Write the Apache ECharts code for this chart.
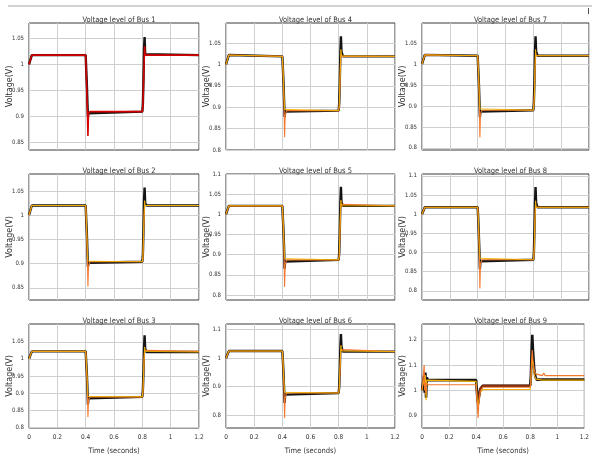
<!DOCTYPE html>
<html>
<head>
<meta charset="utf-8">
<script src="https://cdn.jsdelivr.net/npm/echarts@6/dist/echarts.min.js"></script>
<style>
  html, body { margin: 0; padding: 0; background: #fff; }
  #main { width: 592px; height: 456px; }
</style>
</head>
<body>
<div id="main"></div>
<script>
// time samples (s) shared by bus 1-8
const timeSteps = [0, 0.012, 0.02, 0.03, 0.4, 0.404, 0.408, 0.412, 0.416, 0.42, 0.43, 0.8, 0.804, 0.808, 0.812, 0.816, 0.82, 0.83, 1.2];
// bus 9 has its own sampling (extra oscillations)
const timeSteps9 = [0, 0.01, 0.016, 0.02, 0.025, 0.03, 0.035, 0.045, 0.4, 0.405, 0.41, 0.415, 0.42, 0.43, 0.45, 0.8, 0.805, 0.81, 0.815, 0.82, 0.83, 0.84, 0.85, 0.89, 0.9, 0.91, 1.2];

const bus1Black = [1.0, 1.0, 1.018, 1.018, 1.018, 0.99, 0.965, 0.93, 0.900, 0.906, 0.909, 0.909, 0.925, 0.97, 1.03, 1.053, 1.02, 1.018, 1.018];
const bus1Red = [1.0, 1.0, 1.018, 1.018, 1.018, 0.985, 0.95, 0.915, 0.862, 0.905, 0.909, 0.909, 0.92, 0.96, 1.0, 1.035, 1.018, 1.018, 1.018];

const bus2Black = [1.0, 1.0, 1.02, 1.02, 1.02, 0.99, 0.965, 0.93, 0.893, 0.902, 0.904, 0.904, 0.92, 0.97, 1.03, 1.057, 1.025, 1.02, 1.02];
const bus2Gold = [1.0, 1.0, 1.02, 1.02, 1.02, 1.0, 0.97, 0.93, 0.905, 0.904, 0.904, 0.904, 0.915, 0.96, 1.0, 1.03, 1.02, 1.02, 1.02];
const bus2Orange = [1.0, 1.0, 1.02, 1.02, 1.02, 0.985, 0.95, 0.915, 0.853, 0.895, 0.904, 0.904, 0.91, 0.95, 0.99, 1.02, 1.02, 1.02, 1.02];

const bus3Black = [1.0, 1.0, 1.022, 1.022, 1.022, 0.99, 0.96, 0.92, 0.867, 0.885, 0.889, 0.889, 0.91, 0.96, 1.03, 1.069, 1.03, 1.02, 1.02];
const bus3Gold = [1.0, 1.0, 1.022, 1.022, 1.022, 1.0, 0.97, 0.93, 0.89, 0.889, 0.889, 0.889, 0.905, 0.95, 1.0, 1.035, 1.022, 1.02, 1.02];
const bus3Orange = [1.0, 1.0, 1.022, 1.022, 1.022, 0.985, 0.95, 0.91, 0.83, 0.88, 0.889, 0.889, 0.9, 0.94, 0.99, 1.025, 1.022, 1.022, 1.022];

const bus4Black = [1.0, 1.0, 1.022, 1.019, 1.019, 0.99, 0.96, 0.92, 0.877, 0.89, 0.892, 0.892, 0.91, 0.96, 1.03, 1.066, 1.03, 1.019, 1.019];
const bus4Gold = [1.0, 1.0, 1.022, 1.019, 1.019, 1.0, 0.97, 0.93, 0.895, 0.892, 0.892, 0.892, 0.905, 0.95, 1.0, 1.035, 1.02, 1.019, 1.019];
const bus4Orange = [1.0, 1.0, 1.022, 1.019, 1.019, 0.985, 0.95, 0.91, 0.83, 0.88, 0.892, 0.892, 0.9, 0.94, 0.99, 1.025, 1.019, 1.019, 1.019];

const bus5Black = [1.0, 1.0, 1.021, 1.021, 1.021, 0.99, 0.96, 0.92, 0.865, 0.883, 0.887, 0.887, 0.905, 0.96, 1.03, 1.068, 1.03, 1.021, 1.021];
const bus5Gold = [1.0, 1.0, 1.021, 1.021, 1.021, 1.0, 0.97, 0.93, 0.89, 0.887, 0.887, 0.887, 0.9, 0.95, 1.0, 1.035, 1.021, 1.021, 1.021];
const bus5Orange = [1.0, 1.0, 1.021, 1.021, 1.021, 0.985, 0.95, 0.91, 0.82, 0.875, 0.887, 0.887, 0.895, 0.94, 0.99, 1.025, 1.021, 1.021, 1.021];

const bus6Black = [1.0, 1.0, 1.025, 1.025, 1.025, 0.99, 0.95, 0.9, 0.843, 0.872, 0.878, 0.878, 0.9, 0.96, 1.04, 1.085, 1.04, 1.023, 1.023];
const bus6Gold = [1.0, 1.0, 1.025, 1.025, 1.025, 1.0, 0.96, 0.92, 0.88, 0.878, 0.878, 0.878, 0.895, 0.95, 1.0, 1.045, 1.025, 1.023, 1.023];
const bus6Orange = [1.0, 1.0, 1.025, 1.025, 1.025, 0.985, 0.94, 0.9, 0.79, 0.86, 0.878, 0.878, 0.89, 0.94, 0.99, 1.03, 1.023, 1.023, 1.023];

const bus7Black = [1.0, 1.0, 1.022, 1.02, 1.02, 0.99, 0.96, 0.92, 0.873, 0.887, 0.89, 0.89, 0.91, 0.96, 1.03, 1.066, 1.03, 1.02, 1.02];
const bus7Gold = [1.0, 1.0, 1.022, 1.02, 1.02, 1.0, 0.97, 0.93, 0.893, 0.89, 0.89, 0.89, 0.905, 0.92, 0.99, 1.035, 1.02, 1.02, 1.02];
const bus7Orange = [1.0, 1.0, 1.022, 1.02, 1.02, 0.985, 0.95, 0.91, 0.825, 0.88, 0.89, 0.89, 0.9, 0.94, 0.99, 1.025, 1.02, 1.02, 1.02];

const bus8Black = [1.0, 1.0, 1.018, 1.018, 1.018, 0.99, 0.95, 0.91, 0.857, 0.877, 0.881, 0.881, 0.9, 0.96, 1.03, 1.071, 1.03, 1.018, 1.018];
const bus8Gold = [1.0, 1.0, 1.018, 1.018, 1.018, 1.0, 0.96, 0.92, 0.885, 0.881, 0.881, 0.881, 0.895, 0.915, 0.99, 1.035, 1.018, 1.018, 1.018];
const bus8Orange = [1.0, 1.0, 1.018, 1.018, 1.018, 0.985, 0.94, 0.9, 0.806, 0.87, 0.881, 0.881, 0.89, 0.94, 0.99, 1.025, 1.018, 1.018, 1.018];

const bus9Black = [1.0, 1.0, 1.06, 0.99, 1.07, 0.97, 1.05, 1.04, 1.04, 1.0, 0.96, 0.947, 0.97, 1.005, 1.018, 1.018, 1.06, 1.15, 1.22, 1.16, 1.08, 1.05, 1.042, 1.042, 1.042, 1.042, 1.042];
const bus9Gold = [1.0, 1.0, 1.05, 1.0, 1.06, 0.96, 1.04, 1.035, 1.035, 0.99, 0.95, 0.92, 0.96, 0.99, 1.003, 1.003, 1.04, 1.1, 1.13, 1.1, 1.06, 1.045, 1.04, 1.04, 1.04, 1.04, 1.04];
const bus9Orange = [1.0, 1.0, 1.1, 1.0, 1.03, 0.985, 1.03, 1.022, 1.022, 0.98, 0.93, 0.89, 0.95, 0.995, 1.012, 1.012, 1.05, 1.12, 1.16, 1.12, 1.08, 1.065, 1.058, 1.058, 1.068, 1.058, 1.058];
const bus9Brown = [null, null, null, null, null, null, null, null, null, null, null, null, 0.97, 1.005, 1.018, 1.018, null, null, null, null, null, null, null, null, null, null, null];

// y tick labels and axis limits per bus
const yTicks1 = [0.85, 0.9, 0.95, 1, 1.05], yRange1 = [0.835, 1.08];
const yTicks2 = [0.85, 0.9, 0.95, 1, 1.05], yRange2 = [0.825, 1.085];
const yTicks3 = [0.8, 0.85, 0.9, 0.95, 1, 1.05], yRange3 = [0.798, 1.102];
const yTicks4 = [0.8, 0.85, 0.9, 0.95, 1, 1.05], yRange4 = [0.8, 1.097];
const yTicks5 = [0.8, 0.85, 0.9, 0.95, 1, 1.05, 1.1], yRange5 = [0.7875, 1.1];
const yTicks6 = [0.8, 0.9, 1, 1.1], yRange6 = [0.755, 1.12];
const yTicks7 = [0.8, 0.85, 0.9, 0.95, 1, 1.05], yRange7 = [0.795, 1.098];
const yTicks8 = [0.8, 0.85, 0.9, 0.95, 1, 1.05, 1.1], yRange8 = [0.776, 1.105];
const yTicks9 = [0.9, 1, 1.1, 1.2], yRange9 = [0.85, 1.263];
const xTicks = [0, 0.2, 0.4, 0.6, 0.8, 1, 1.2];

const BLACK = '#141414', GOLD = '#f2b000', ORANGE = '#f3782c', RED = '#d40000', BROWN = '#8a2c08';
const narrow = "'Liberation Sans Narrow', 'DejaVu Sans Condensed', sans-serif";

// panel layout: column x, row y (pixel boxes)
const cols = [[29, 199], [226, 395], [422, 589]];
const rows = [[23, 150], [174, 300], [324, 429]];

const panels = [
  { bus: 1, c: 0, r: 0, t: timeSteps, ticks: yTicks1, range: yRange1,
    lines: [[bus1Black, BLACK, 2.4], [bus1Red, RED, 1.6]] },
  { bus: 4, c: 1, r: 0, t: timeSteps, ticks: yTicks4, range: yRange4,
    lines: [[bus4Black, BLACK, 2.4], [bus4Orange, ORANGE, 1.1], [bus4Gold, GOLD, 0.9]] },
  { bus: 7, c: 2, r: 0, t: timeSteps, ticks: yTicks7, range: yRange7,
    lines: [[bus7Black, BLACK, 2.4], [bus7Orange, ORANGE, 1.1], [bus7Gold, GOLD, 0.9]] },
  { bus: 2, c: 0, r: 1, t: timeSteps, ticks: yTicks2, range: yRange2,
    lines: [[bus2Black, BLACK, 2.4], [bus2Orange, ORANGE, 1.1], [bus2Gold, GOLD, 0.9]] },
  { bus: 5, c: 1, r: 1, t: timeSteps, ticks: yTicks5, range: yRange5,
    lines: [[bus5Black, BLACK, 2.4], [bus5Orange, ORANGE, 1.1], [bus5Gold, GOLD, 0.9]] },
  { bus: 8, c: 2, r: 1, t: timeSteps, ticks: yTicks8, range: yRange8,
    lines: [[bus8Black, BLACK, 2.4], [bus8Orange, ORANGE, 1.1], [bus8Gold, GOLD, 0.9]] },
  { bus: 3, c: 0, r: 2, t: timeSteps, ticks: yTicks3, range: yRange3,
    lines: [[bus3Black, BLACK, 2.4], [bus3Orange, ORANGE, 1.1], [bus3Gold, GOLD, 0.9]] },
  { bus: 6, c: 1, r: 2, t: timeSteps, ticks: yTicks6, range: yRange6,
    lines: [[bus6Black, BLACK, 2.4], [bus6Orange, ORANGE, 1.1], [bus6Gold, GOLD, 0.9]] },
  { bus: 9, c: 2, r: 2, t: timeSteps9, ticks: yTicks9, range: yRange9,
    lines: [[bus9Black, BLACK, 2.6], [bus9Gold, GOLD, 1.1], [bus9Brown, BROWN, 2.0], [bus9Orange, ORANGE, 1.1]] }
];

const grid = [], xAxis = [], yAxis = [], series = [], title = [];
panels.forEach((p, i) => {
  const [x0, x1] = cols[p.c];
  const [y0, y1] = rows[p.r];
  const bottom = p.r === 2;
  grid.push({ left: x0, top: y0, width: x1 - x0, height: y1 - y0, show: true,
    borderColor: '#3a3a3a', borderWidth: 1, backgroundColor: '#fff' });
  title.push({ text: 'Voltage level of Bus ' + p.bus, left: (x0 + x1) / 2, top: y0 - 12, textAlign: 'center',
    textStyle: { fontSize: 7.5, fontWeight: 'normal', color: '#333', fontFamily: narrow } });
  xAxis.push({
    type: 'value', gridIndex: i, min: 0, max: 1.2, interval: 0.2,
    axisLine: { show: false }, axisTick: { show: false },
    splitLine: { show: true, lineStyle: { color: '#cfcfcf', width: 1 } },
    axisLabel: { show: bottom, fontSize: 6.5, color: '#333', margin: 6, fontFamily: narrow,
      customValues: xTicks, formatter: v => String(+v.toFixed(1)) },
    name: bottom ? 'Time (seconds)' : '', nameLocation: 'middle', nameGap: 19, nameMoveOverlap: false,
    nameTextStyle: { fontSize: 7.5, color: '#333', fontFamily: narrow }
  });
  yAxis.push({
    type: 'value', gridIndex: i, min: p.range[0], max: p.range[1],
    axisLine: { show: false },
    axisTick: { show: false, customValues: p.ticks },
    splitLine: { show: true, lineStyle: { color: '#cfcfcf', width: 1 } },
    axisLabel: { fontSize: 6, color: '#333', margin: 5, fontFamily: narrow,
      customValues: p.ticks, formatter: v => String(+v.toFixed(2)) },
    name: 'Voltage(V)', nameLocation: 'middle', nameGap: 15, nameRotate: 90, nameMoveOverlap: false,
    nameTextStyle: { fontSize: 8, color: '#333', fontFamily: "'DejaVu Sans', sans-serif" }
  });
  p.lines.forEach(([vals, color, w]) => {
    series.push({
      type: 'line', xAxisIndex: i, yAxisIndex: i, showSymbol: false, connectNulls: false,
      data: p.t.map((t, k) => [t, vals[k]]),
      lineStyle: { color: color, width: w }, itemStyle: { color: color }
    });
  });
});

const chart = echarts.init(document.getElementById('main'));
chart.setOption({
  backgroundColor: '#fff',
  animation: false,
  title: title,
  grid: grid,
  xAxis: xAxis,
  yAxis: yAxis,
  series: series,
  graphic: [
    { type: 'rect', shape: { x: 8, y: 5, width: 584, height: 2 }, style: { fill: '#d2d2d2' } },
    { type: 'rect', shape: { x: 588, y: 8, width: 1, height: 6 }, style: { fill: '#555' } }
  ]
});
</script>
</body>
</html>
